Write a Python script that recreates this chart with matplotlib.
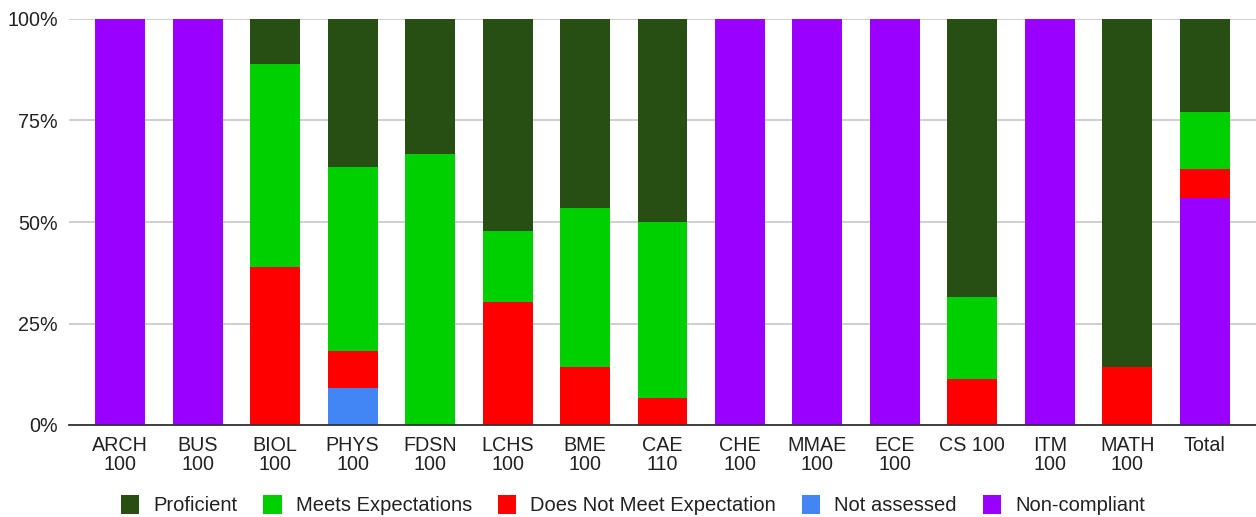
import matplotlib
matplotlib.use("Agg")
import matplotlib.pyplot as plt
import numpy as np
from matplotlib.patches import Patch

plt.rcParams['font.family'] = ['Liberation Sans', 'DejaVu Sans']

categories = ["ARCH\n100", "BUS\n100", "BIOL\n100", "PHYS\n100", "FDSN\n100", "LCHS\n100",
              "BME\n100", "CAE\n110", "CHE\n100", "MMAE\n100", "ECE\n100", "CS 100",
              "ITM\n100", "MATH\n100", "Total"]

# Percent of students in each category per course
non_compliant = [100, 100, 0, 0, 0, 0, 0, 0, 100, 100, 100, 0, 100, 0, 56.0]
not_assessed  = [0, 0, 0, 9.1, 0, 0, 0, 0, 0, 0, 0, 0, 0, 0, 0]
does_not_meet = [0, 0, 38.9, 9.1, 0, 30.4, 14.2, 6.7, 0, 0, 0, 11.3, 0, 14.2, 7.1]
meets         = [0, 0, 50.0, 45.4, 66.7, 17.4, 39.2, 43.3, 0, 0, 0, 20.3, 0, 0, 14.0]
proficient    = [0, 0, 11.1, 36.4, 33.3, 52.2, 46.6, 50.0, 0, 0, 0, 68.4, 0, 85.8, 22.9]

series = [
    ("Non-compliant", non_compliant, "#9900ff"),
    ("Not assessed", not_assessed, "#4285f4"),
    ("Does Not Meet Expectation", does_not_meet, "#ff0000"),
    ("Meets Expectations", meets, "#00cf00"),
    ("Proficient", proficient, "#274e13"),
]

fig = plt.figure(figsize=(12.56, 5.17), dpi=100)
ax = fig.add_axes([69 / 1256, 1 - 425 / 517, (1256 - 69) / 1256, 406 / 517])

x = np.arange(len(categories))
bottom = np.zeros(len(categories))
for name, vals, color in series:
    vals = np.array(vals, dtype=float)
    ax.bar(x, vals, bottom=bottom, width=0.645, color=color, linewidth=0, zorder=3)
    bottom += vals

ax.set_xlim(-0.66, len(categories) - 1 + 0.66)
ax.set_ylim(0, 100)
ax.set_yticks([0, 25, 50, 75, 100])
ax.set_yticklabels(["0%", "25%", "50%", "75%", "100%"])
ax.set_xticks(x)
ax.set_xticklabels(categories, linespacing=1.0)
ax.tick_params(axis='both', length=0, labelsize=14.2, colors="#222222")
ax.tick_params(axis='x', pad=8)
ax.tick_params(axis='y', pad=8)
ax.grid(axis='y', color="#cccccc", linewidth=1.3, zorder=0)
for s in ["top", "right", "left"]:
    ax.spines[s].set_visible(False)
ax.spines["bottom"].set_color("#333333")
ax.spines["bottom"].set_linewidth(1.3)
ax.spines["bottom"].set_zorder(4)

handles = [Patch(facecolor=c, label=n) for n, _, c in
           [series[4], series[3], series[2], series[1], series[0]]]
fig.legend(handles=handles, loc="center", bbox_to_anchor=(0.504, 1 - 505 / 517),
           ncol=5, frameon=False, fontsize=14.5, handlelength=0.9, handleheight=1.05,
           handletextpad=0.7, columnspacing=1.3, labelcolor="#222222")

fig.savefig("out.png", dpi=100, facecolor="white")
